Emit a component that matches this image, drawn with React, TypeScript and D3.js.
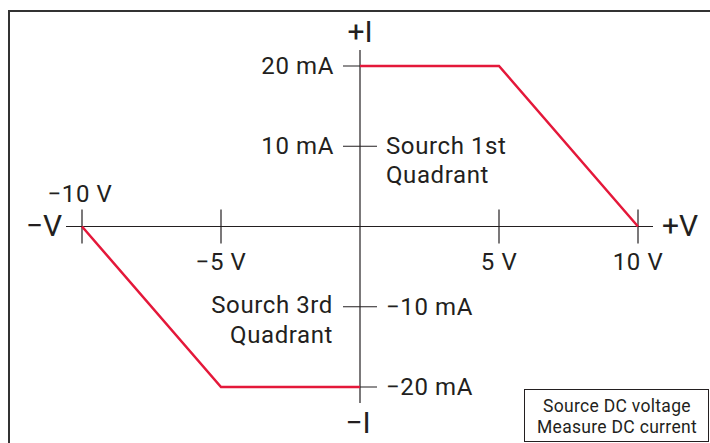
import * as d3 from "d3";
import { useEffect } from "react";

// voltage (V) and current (mA) values
const voltTicks = [-10, -5, 5, 10];
const voltLabels = ["\u221210 V", "\u22125 V", "5 V", "10 V"];
const currTicks = [20, 10, -10, -20];
const currLabels = ["20 mA", "10 mA", "\u221210 mA", "\u221220 mA"];
const q1Volt = [0, 5, 10];
const q1Curr = [20, 20, 0];
const q3Volt = [-10, -5, 0];
const q3Curr = [0, -20, -20];

const W = 710,
  H = 443;
const ink = "#231f20";
const red = "#e4183a";
const font = "Roboto, 'Noto Sans', sans-serif";

const App = () => {
  useEffect(() => {
    document.body.style.margin = "0";
  }, []);

  let x = d3.scaleLinear().domain([-10, 10]).range([82, 638]);
  let y = d3.scaleLinear().domain([-20, 20]).range([387, 66]);
  let x0 = x(0),
    y0 = y(0);
  let tk = 17;
  let fs = 24;

  const path = (vs: number[], cs: number[]) =>
    d3
      .line<number>()
      .x((d) => x(d))
      .y((d, i) => y(cs[i]))(vs);

  return (
    <svg width={W} height={H} style={{ display: "block" }} fontFamily={font}>
      <rect x={0} y={0} width={W} height={H} fill="#fff" />
      <rect x={9} y={11} width={W + 10} height={H + 10} fill="none" stroke="#333" strokeWidth={2} />

      {/* axes */}
      <line x1={66} x2={653} y1={y0} y2={y0} stroke={ink} strokeWidth={1.2} />
      <line x1={x0} x2={x0} y1={50} y2={403} stroke={ink} strokeWidth={1.2} />

      {voltTicks.map((v, i) => (
        <g key={"v" + i}>
          <line x1={x(v)} x2={x(v)} y1={y0 - tk} y2={y0 + tk} stroke={ink} strokeWidth={1.2} />
          <text
            x={v === -10 ? x(v) - 2 : x(v)}
            y={v === -10 ? 202 : 270}
            textAnchor="middle"
            fontSize={fs}
            fill={ink}
            letterSpacing={0.6}
          >
            {voltLabels[i]}
          </text>
        </g>
      ))}

      {currTicks.map((c, i) => (
        <g key={"c" + i}>
          <line x1={x0 - tk} x2={x0 + tk} y1={y(c)} y2={y(c)} stroke={ink} strokeWidth={1.2} />
          <text
            x={c > 0 ? x0 - 26 : x0 + 26}
            y={y(c) + 8}
            textAnchor={c > 0 ? "end" : "start"}
            fontSize={fs}
            fill={ink}
            letterSpacing={0.6}
          >
            {currLabels[i]}
          </text>
        </g>
      ))}

      {/* operating boundaries */}
      <path d={path(q1Volt, q1Curr) || ""} fill="none" stroke={red} strokeWidth={2.5} />
      <path d={path(q3Volt, q3Curr) || ""} fill="none" stroke={red} strokeWidth={2.5} />

      {/* axis names */}
      <text x={x0} y={42} textAnchor="middle" fontSize={30} fill={ink}>
        +I
      </text>
      <text x={x0 - 2} y={433} textAnchor="middle" fontSize={30} fill={ink}>
        {"\u2212I"}
      </text>
      <text x={44} y={236} textAnchor="middle" fontSize={30} fill={ink}>
        {"\u2212V"}
      </text>
      <text x={680} y={236} textAnchor="middle" fontSize={30} fill={ink}>
        +V
      </text>

      {/* quadrant notes */}
      <text x={386} y={154} fontSize={fs} fill={ink} letterSpacing={0.6}>
        <tspan x={386}>Sourch 1st</tspan>
        <tspan x={386} dy={29}>
          Quadrant
        </tspan>
      </text>
      <text x={333} y={313} fontSize={fs} fill={ink} textAnchor="end" letterSpacing={0.6}>
        <tspan x={333}>Sourch 3rd</tspan>
        <tspan x={333} dy={30}>
          Quadrant
        </tspan>
      </text>

      {/* mode box */}
      <rect x={524.5} y={389.5} width={184} height={52} fill="#fff" stroke={ink} strokeWidth={1} />
      <text x={617} y={412} textAnchor="middle" fontSize={17.5} fill={ink} letterSpacing={0.3}>
        <tspan x={617}>Source DC voltage</tspan>
        <tspan x={617} dy={21}>
          Measure DC current
        </tspan>
      </text>
    </svg>
  );
};

export default App;
